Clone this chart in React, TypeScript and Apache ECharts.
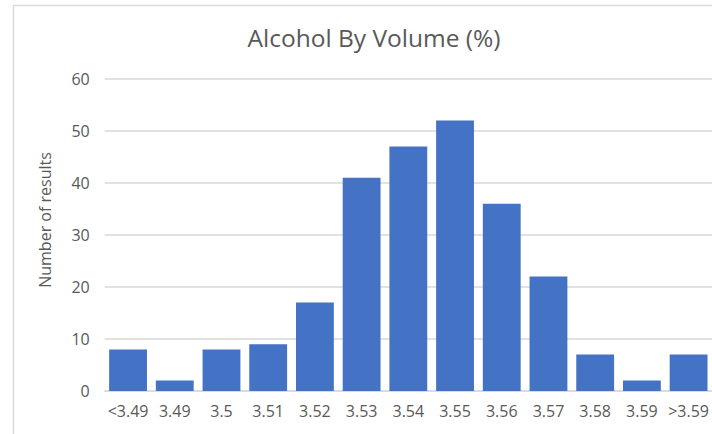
import React, { useEffect, useRef } from "react";
import * as echarts from "echarts";

const categories = ["<3.49", "3.49", "3.5", "3.51", "3.52", "3.53", "3.54", "3.55", "3.56", "3.57", "3.58", "3.59", ">3.59"];
const counts = [8, 2, 8, 9, 17, 41, 47, 52, 36, 22, 7, 2, 7];
const yTicks = { min: 0, max: 60, interval: 10 };
const titleText = "Alcohol By Volume (%)";
const yAxisName = "Number of results";

export default function App() {
  const ref = useRef<HTMLDivElement>(null);
  useEffect(() => {
    if (!ref.current) return;
    const chart = echarts.init(ref.current, null, { renderer: "svg" });
    const font = "'Open Sans', sans-serif";
    chart.setOption({
      animation: false,
      backgroundColor: "#ffffff",
      title: {
        text: titleText,
        left: 369,
        top: 20,
        textAlign: "center",
        textStyle: { color: "#595959", fontFamily: font, fontSize: 24.5, fontWeight: "normal" },
      },
      graphic: [
        {
          type: "rect",
          shape: { x: 13.5, y: 5.5, width: 760, height: 460 },
          style: { fill: "none", stroke: "#d9d9d9", lineWidth: 1.5 },
          silent: true,
        },
        {
          type: "text",
          x: 45,
          y: 220,
          rotation: Math.PI / 2,
          style: {
            text: yAxisName,
            fill: "#595959",
            fontFamily: font,
            fontSize: 16,
            align: "center",
            verticalAlign: "middle",
          },
          silent: true,
        },
      ],
      grid: { left: 104.7, right: 0, top: 79, bottom: 43, containLabel: false },
      xAxis: {
        type: "category",
        data: categories,
        axisLine: { lineStyle: { color: "#d9d9d9", width: 1.5 } },
        axisTick: { show: false },
        axisLabel: { color: "#595959", fontFamily: font, fontSize: 16, margin: 12, interval: 0 },
      },
      yAxis: {
        type: "value",
        min: yTicks.min,
        max: yTicks.max,
        interval: yTicks.interval,
        axisLine: { show: false },
        axisTick: { show: false },
        axisLabel: { color: "#595959", fontFamily: font, fontSize: 16, margin: 15 },
        splitLine: { lineStyle: { color: "#d9d9d9", width: 1.5 } },
      },
      series: [
        {
          type: "bar",
          data: counts,
          barCategoryGap: "19%",
          itemStyle: { color: "#4472c4" },
        },
      ],
    });
    return () => chart.dispose();
  }, []);
  return (
    <div
      ref={ref}
      style={{ position: "absolute", left: 0, top: 0, width: 712, height: 434 }}
    />
  );
}
